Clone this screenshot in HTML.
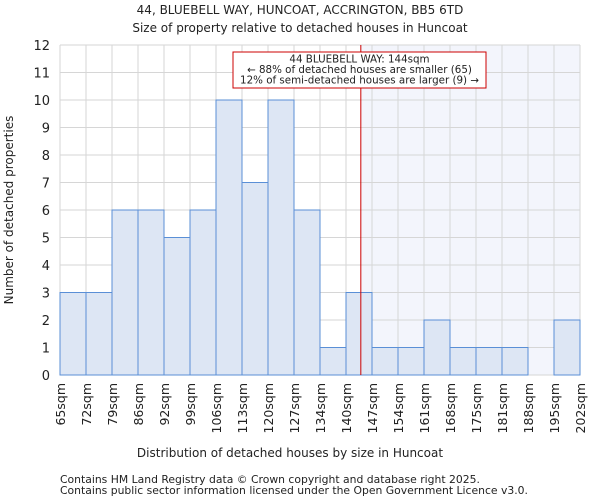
<!DOCTYPE html>
<html><head><meta charset="utf-8"><style>
body{margin:0;background:#fff;font-family:"DejaVu Sans","Liberation Sans",sans-serif;}
svg text{font-family:"DejaVu Sans","Liberation Sans",sans-serif;fill:#222;}
</style></head><body>
<svg id="c" width="600" height="500">
<text x="300" y="14" font-size="12" text-anchor="middle">44, BLUEBELL WAY, HUNCOAT, ACCRINGTON, BB5 6TD</text>
<text x="300" y="32" font-size="12" text-anchor="middle">Size of property relative to detached houses in Huncoat</text>
<g id="plot"></g>
<text x="290" y="457" font-size="12" text-anchor="middle">Distribution of detached houses by size in Huncoat</text>
<text transform="translate(13,210) rotate(-90)" font-size="12" text-anchor="middle">Number of detached properties</text>
<text x="60" y="483" font-size="10.8" fill="#444">Contains HM Land Registry data © Crown copyright and database right 2025.</text>
<text x="60" y="494" font-size="10.8" fill="#444">Contains public sector information licensed under the Open Government Licence v3.0.</text>
</svg>
<script>
const binLabels=["65sqm","72sqm","79sqm","86sqm","92sqm","99sqm","106sqm","113sqm","120sqm","127sqm","134sqm","140sqm","147sqm","154sqm","161sqm","168sqm","175sqm","181sqm","188sqm","195sqm","202sqm"];
const counts=[3,3,6,6,5,6,10,7,10,6,1,3,1,1,2,1,1,1,0,2];
const yTicks=[0,1,2,3,4,5,6,7,8,9,10,11,12];
const propertyBinPos=11.57;
const NS="http://www.w3.org/2000/svg";
const g=document.getElementById("plot");
const X0=60,X1=580,Y0=375,Y1=45,yMax=12;
const bw=(X1-X0)/counts.length;
const xs=i=>X0+i*bw;
const ys=v=>Y0-v/yMax*(Y0-Y1);
function el(t,a){const e=document.createElementNS(NS,t);for(const k in a)e.setAttribute(k,a[k]);g.appendChild(e);return e;}
const px=xs(propertyBinPos);
let sh=el("rect",{x:px,y:Y1,width:X1-px,height:Y0-Y1,fill:"#f3f5fc"});


yTicks.forEach(v=>{
 let l=el("line",{x1:X0,x2:X1,y1:ys(v),y2:ys(v),stroke:"#d6d6d6","stroke-width":1});
 
 
 let t=el("text",{x:X0-10,y:ys(v)+5,"font-size":13,"text-anchor":"end"});t.textContent=v;
 
 
});
binLabels.forEach((s,i)=>{
 let l=el("line",{x1:xs(i),x2:xs(i),y1:Y1,y2:Y0,stroke:"#d6d6d6","stroke-width":1});
 
 
 let t=el("text",{transform:`translate(${xs(i)+5},${Y0+8}) rotate(-90)`,"font-size":12.5,"text-anchor":"end"});t.textContent=s;
 
 
});
counts.forEach((v,i)=>{
 if(v<=0)return;
 let r=el("rect",{x:xs(i),y:ys(v),width:bw,height:Y0-ys(v),fill:"#dde6f4",stroke:"#5a8fd6","stroke-width":1});
 
 
});
let rl=el("line",{x1:px,x2:px,y1:Y1,y2:Y0,stroke:"#cc0000","stroke-width":1});


let bx=el("rect",{x:233,y:52,width:253,height:36,fill:"#fff",stroke:"#cc0000","stroke-width":1});


["44 BLUEBELL WAY: 144sqm","← 88% of detached houses are smaller (65)","12% of semi-detached houses are larger (9) →"].forEach((s,i)=>{
 let t=el("text",{x:359.5,y:62.5+i*10.5,"font-size":10.3,"text-anchor":"middle"});t.textContent=s;
 
 
});
</script>
</body></html>
